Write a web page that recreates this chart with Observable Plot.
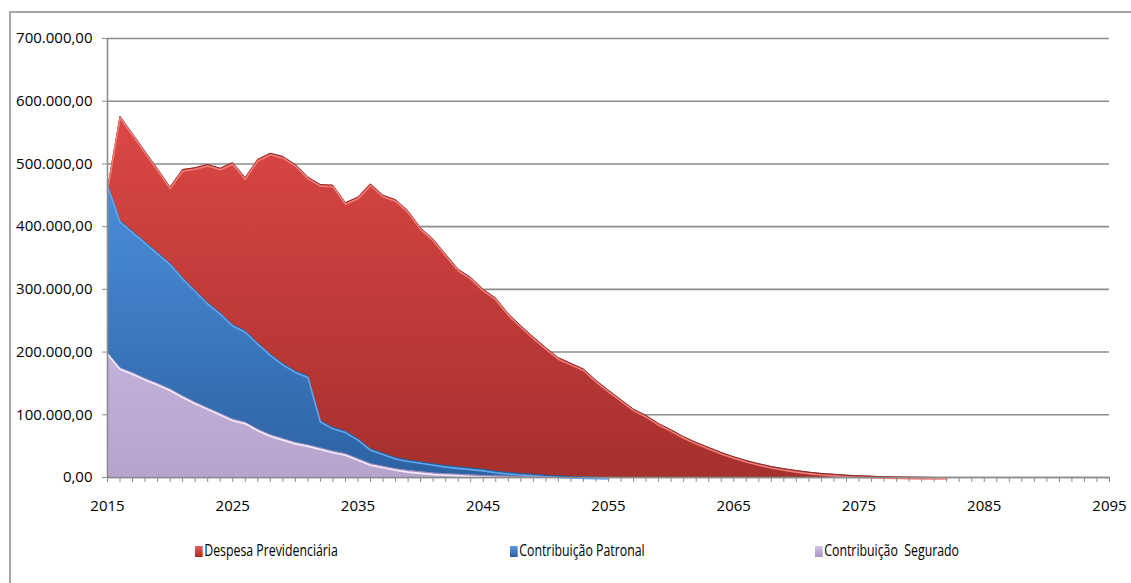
<!DOCTYPE html>
<html>
<head>
<meta charset="utf-8">
<script src="https://cdn.jsdelivr.net/npm/d3@7"></script>
<script src="https://cdn.jsdelivr.net/npm/@observablehq/plot@0.6"></script>
<style>
  html, body { margin: 0; padding: 0; background: #fff; }
  #wrap { position: relative; width: 1131px; height: 583px; overflow: hidden; font-family: "Open Sans", sans-serif; }
  #frame { position: absolute; left: 9px; top: 11px; width: 1200px; height: 700px; border-left: 2px solid #a6a6a6; border-top: 2px solid #a6a6a6; }
  #chart { position: absolute; left: 0; top: 0; }
  .leg { position: absolute; top: 539px; font-size: 16px; color: #000; white-space: nowrap; transform: scaleX(0.77); transform-origin: left center; }
  .sw { display: inline-block; width: 10px; height: 11px; margin-right: 2px; vertical-align: -1px; }
</style>
</head>
<body>
<div id="wrap">
  <div id="frame"></div>
  <div id="chart"></div>
  <div class="leg" style="left:195px"><span class="sw" style="background:linear-gradient(#e0605c,#a52b28)"></span>Despesa Previdenciária</div>
  <div class="leg" style="left:510px"><span class="sw" style="background:linear-gradient(#5a9be4,#2a5d9c)"></span>Contribuição Patronal</div>
  <div class="leg" style="left:815px"><span class="sw" style="background:linear-gradient(#d2c4e6,#a893c2)"></span>Contribuição&nbsp; Segurado</div>
</div>
<script>
// ---- data ----
const seriesNames = ["Despesa Previdenciária", "Contribuição Patronal", "Contribuição  Segurado"];

// years 2015..2082
const despesa = [
  460000, 576000, 548000, 520000, 492000, 463000, 491000, 494000, 499000, 493000,
  502000, 478000, 507000, 517000, 512000, 499000, 479000, 467000, 466000, 438000,
  447000, 468000, 450000, 443000, 425000, 398000, 380000, 356000, 332000, 319000,
  300000, 286000, 261000, 242000, 224000, 207000, 191000, 182000, 173000, 155000,
  139000, 124000, 109000, 99000, 86000, 76000, 65000, 56000, 48000, 40000,
  33000, 27000, 22000, 17500, 14000, 11000, 8500, 6500, 5000, 3700,
  2700, 1900, 1300, 800, 500, 250, 100, 0
];
// years 2015..2055
const patronal = [
  468000, 410000, 393000, 376000, 359000, 342000, 319000, 299000, 279000, 263000,
  244000, 234000, 215000, 197000, 182000, 170000, 162000, 91000, 80000, 74000,
  62000, 46000, 39000, 32000, 28000, 25000, 22000, 19000, 17000, 15000,
  13000, 10000, 8000, 6500, 5000, 3500, 2500, 1500, 1000, 500,
  0
];
// years 2015..2051
const segurado = [
  199000, 175000, 167000, 158000, 150000, 141000, 130000, 120000, 111000, 102000,
  93000, 88000, 77000, 68000, 62000, 56000, 52000, 47000, 42000, 38000,
  30000, 22000, 18000, 14000, 11000, 9000, 7000, 6000, 5000, 4000,
  3000, 2500, 2000, 1500, 1000, 500, 0
];
const firstYear = 2015;
const xTickYears = d3.range(2015, 2096);          // one tick per year
const yTickValues = [0, 100000, 200000, 300000, 400000, 500000, 600000, 700000];

// ---- build tables ----
const toRows = (arr) => arr.map((v, i) => ({year: firstYear + i, value: v}));
const dDesp = toRows(despesa), dPat = toRows(patronal), dSeg = toRows(segurado);

const ptBR = d3.formatLocale({decimal: ",", thousands: ".", grouping: [3], currency: ["R$", ""]});
const fmt = ptBR.format(",.2f");

const grid = "#8c8c8c";
const plot = Plot.plot({
  width: 1131,
  height: 520,
  marginLeft: 107,
  marginRight: 22,
  marginTop: 38,
  marginBottom: 43,
  style: {fontFamily: "Open Sans, sans-serif", fontSize: "15px", color: "#000", background: "transparent"},
  x: {domain: [2015, 2095], label: null},
  y: {domain: [0, 700000], label: null},
  marks: [
    Plot.gridY(yTickValues, {stroke: grid, strokeOpacity: 1, strokeWidth: 1.6}),
    Plot.areaY(dDesp, {x: "year", y: "value", fill: "url(#gRed)"}),
    Plot.lineY(dDesp, {x: "year", y: "value", stroke: "#8e2a27", strokeWidth: 1}),
    Plot.lineY(dDesp, {x: "year", y: "value", stroke: "#ef7d79", strokeWidth: 1.6, dy: 1.5}),
    Plot.areaY(dPat, {x: "year", y: "value", fill: "url(#gBlue)"}),
    Plot.lineY(dPat, {x: "year", y: "value", stroke: "#2a5a94", strokeWidth: 1}),
    Plot.lineY(dPat, {x: "year", y: "value", stroke: "#62a6ee", strokeWidth: 1.6, dy: 1.5}),
    Plot.areaY(dSeg, {x: "year", y: "value", fill: "url(#gLil)"}),
    Plot.lineY(dSeg, {x: "year", y: "value", stroke: "#9a86b2", strokeWidth: 0.8}),
    Plot.lineY(dSeg, {x: "year", y: "value", stroke: "#f3eafc", strokeWidth: 1.6, dy: 1.5}),
    Plot.ruleX([2015], {stroke: grid, strokeWidth: 1.6}),
    Plot.ruleY([0], {stroke: grid, strokeWidth: 1.6}),
    Plot.axisY({ticks: yTickValues, tickFormat: fmt, tickSize: 5, tickPadding: 10, stroke: grid, fontSize: 15, label: null}),
    Plot.axisX({ticks: xTickYears, tickFormat: d => (d % 10 === 5 ? String(d) : ""), tickSize: 5, tickPadding: 18, stroke: grid, fontSize: 15, label: null})
  ]
});

const svg = d3.select(plot);
const defs = svg.insert("defs", ":first-child");
function grad(id, top, bottom) {
  const g = defs.append("linearGradient").attr("id", id).attr("x1", 0).attr("y1", 0).attr("x2", 0).attr("y2", 1);
  g.append("stop").attr("offset", "0%").attr("stop-color", top);
  g.append("stop").attr("offset", "100%").attr("stop-color", bottom);
}
grad("gRed", "#dc4744", "#a5302d");
grad("gBlue", "#4a8fda", "#2d62a2");
grad("gLil", "#c2b1d9", "#b7a4cd");

document.getElementById("chart").appendChild(plot);
</script>
</body>
</html>
